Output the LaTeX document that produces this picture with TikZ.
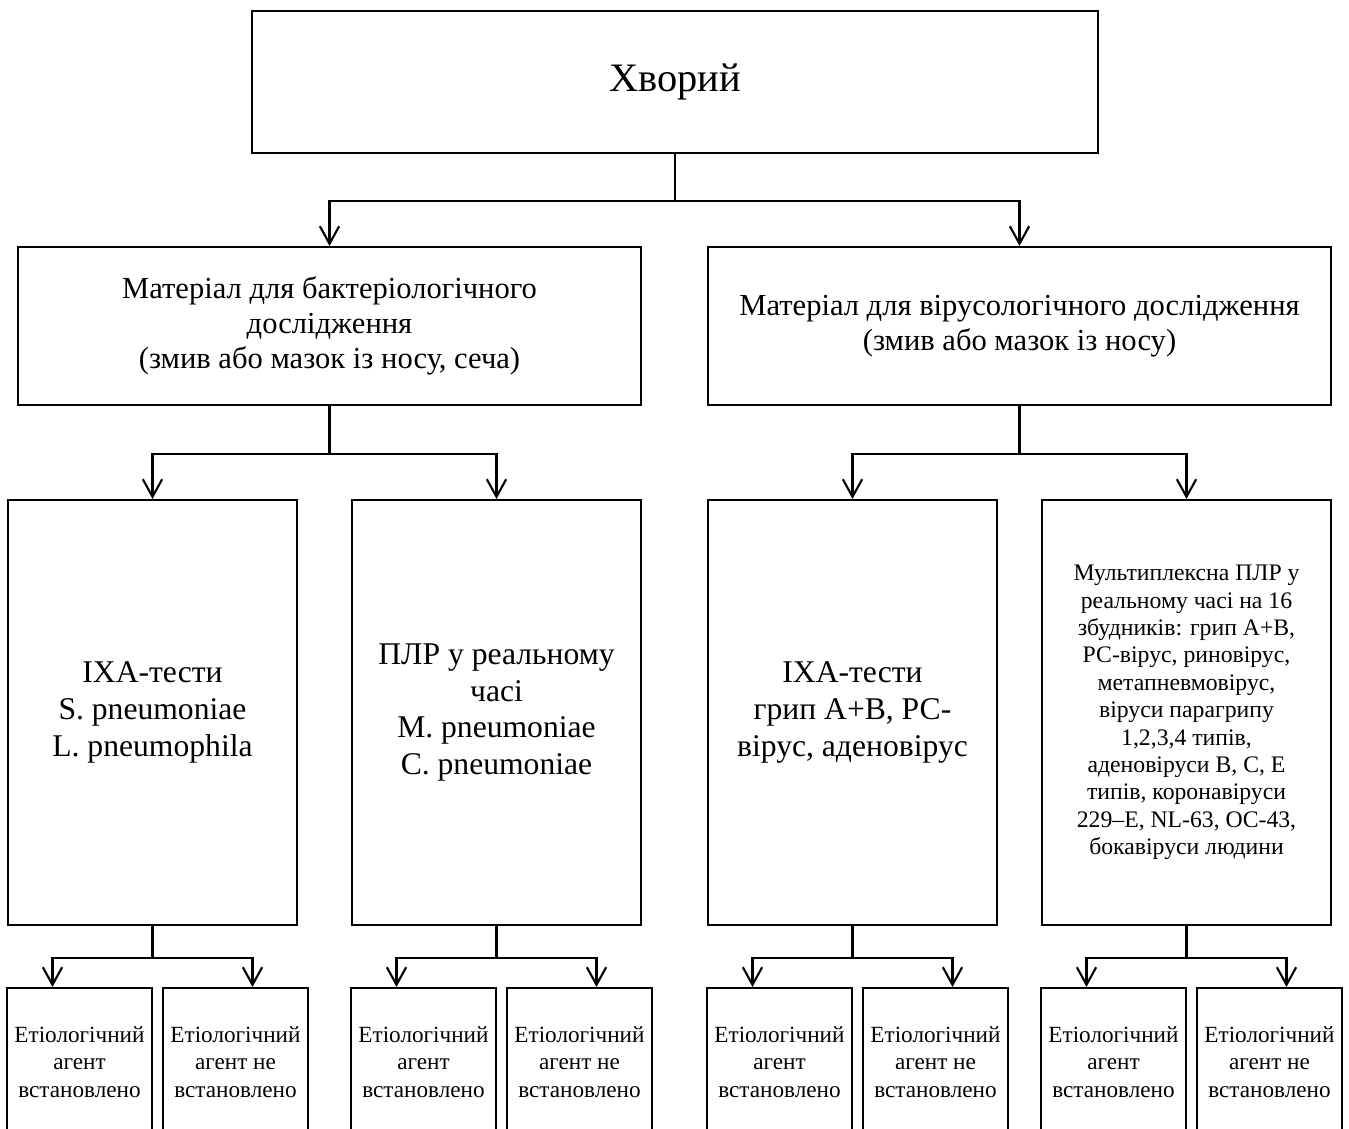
\documentclass[tikz,border=0pt]{standalone}
\usepackage{fontspec}
\setmainfont{Liberation Serif}
\usetikzlibrary{arrows.meta,calc}
\begin{document}
\begin{tikzpicture}[x=0.02cm,y=-0.02cm,
        box/.style={draw,line width=1.2pt,align=center,inner sep=0pt},
        bigbox/.style={box,minimum width=5.78cm,minimum height=8.5cm,font=\fontsize{18}{21}\selectfont},
        endbox/.style={box,minimum width=2.9cm,minimum height=2.96cm,font=\fontsize{13.2}{15.6}\selectfont},
        arr/.style={line width=1.2pt,-{Straight Barb[length=10pt,width=11pt,line width=1.2pt]}}]
        \clip (0,0) rectangle (1349,1129);
        %Boxes
        \node [box,minimum width=16.92cm,minimum height=2.84cm,font=\fontsize{23}{27}\selectfont] (patient) at (675,82) {Хворий};
        \node [box,minimum width=12.46cm,minimum height=3.16cm,font=\fontsize{17.4}{19.85}\selectfont] (bact) at (329.5,326) {Матеріал для бактеріологічного\\дослідження\\(змив або мазок із носу, сеча)};
        \node [box,minimum width=12.46cm,minimum height=3.16cm,font=\fontsize{17.4}{19.85}\selectfont] (vir) at (1019.5,326) {Матеріал для вірусологічного дослідження\\(змив або мазок із носу)};
        \node [bigbox] (iha1) at (152.5,712.5) {ІХА-тести\\S. pneumoniae\\L. pneumophila};
        \node [bigbox] (plr1) at (496.5,712.5) {ПЛР у реальному\\часі\\M. pneumoniae\\C. pneumoniae};
        \node [bigbox] (iha2) at (852.5,712.5) {ІХА-тести\\грип А+В, РС-\\вірус, аденовірус};
        \node [bigbox,font=\fontsize{13.5}{15.6}\selectfont] (plr2) at (1186.5,712.5) {Мультиплексна ПЛР у\\реальному часі на 16\\збудників: грип А+В,\\РС-вірус, риновірус,\\метапневмовірус,\\віруси парагрипу\\1,2,3,4 типів,\\аденовіруси В, С, Е\\типів, коронавіруси\\229--E, NL-63, OC-43,\\бокавіруси людини};
        %Result boxes
        \node [endbox] (iha1yes) at (79.5,1062) {Етіологічний\\агент\\встановлено};
        \node [endbox] (iha1no) at (235.5,1062) {Етіологічний\\агент не\\встановлено};
        \node [endbox] (plr1yes) at (423.5,1062) {Етіологічний\\агент\\встановлено};
        \node [endbox] (plr1no) at (579.5,1062) {Етіологічний\\агент не\\встановлено};
        \node [endbox] (iha2yes) at (779.5,1062) {Етіологічний\\агент\\встановлено};
        \node [endbox] (iha2no) at (935.5,1062) {Етіологічний\\агент не\\встановлено};
        \node [endbox] (plr2yes) at (1113.5,1062) {Етіологічний\\агент\\встановлено};
        \node [endbox] (plr2no) at (1269.5,1062) {Етіологічний\\агент не\\встановлено};
        %Arrows
        \draw [arr] (patient.south) -- ++(0,47) -| (bact.north);
        \draw [arr] (patient.south) -- ++(0,47) -| (vir.north);
        \draw [arr] (bact.south) -- ++(0,48) -| (iha1.north);
        \draw [arr] (bact.south) -- ++(0,48) -| (plr1.north);
        \draw [arr] (vir.south) -- ++(0,48) -| (iha2.north);
        \draw [arr] (vir.south) -- ++(0,48) -| (plr2.north);
        \draw [arr] (iha1.south) -- ++(0,32) -| ($(iha1.south |- iha1yes.north)+(-100,0)$);
        \draw [arr] (iha1.south) -- ++(0,32) -| ($(iha1.south |- iha1no.north)+(100,0)$);
        \draw [arr] (plr1.south) -- ++(0,32) -| ($(plr1.south |- plr1yes.north)+(-100,0)$);
        \draw [arr] (plr1.south) -- ++(0,32) -| ($(plr1.south |- plr1no.north)+(100,0)$);
        \draw [arr] (iha2.south) -- ++(0,32) -| ($(iha2.south |- iha2yes.north)+(-100,0)$);
        \draw [arr] (iha2.south) -- ++(0,32) -| ($(iha2.south |- iha2no.north)+(100,0)$);
        \draw [arr] (plr2.south) -- ++(0,32) -| ($(plr2.south |- plr2yes.north)+(-100,0)$);
        \draw [arr] (plr2.south) -- ++(0,32) -| ($(plr2.south |- plr2no.north)+(100,0)$);
\end{tikzpicture}
\end{document}
